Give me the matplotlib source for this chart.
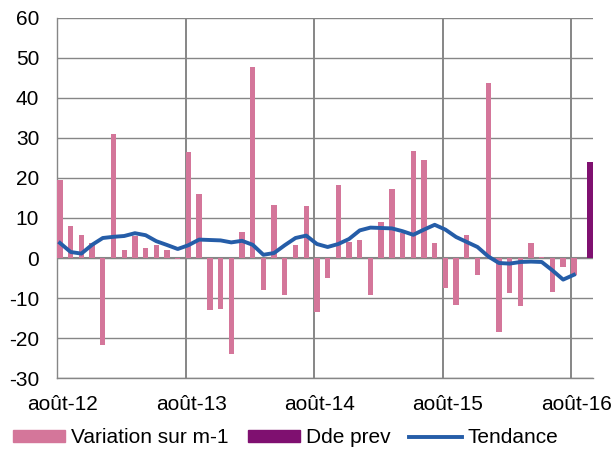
import matplotlib
matplotlib.use("Agg")
import matplotlib.pyplot as plt
import numpy as np
from matplotlib.patches import Patch
from matplotlib.lines import Line2D

plt.rcParams['font.family'] = ['Liberation Sans', 'DejaVu Sans']
plt.rcParams['axes.unicode_minus'] = False

tick_labels = ["août-12", "août-13", "août-14", "août-15", "août-16"]

variation = [19.6, 7.9, 5.8, 3.8, -21.7, 30.9, 1.9, 5.4, 2.6, 3.2, 2.1, -0.3,
             26.5, 16.0, -12.9, -12.75, -23.9, 6.5, 47.75, -7.9, 13.25, -9.25, 3.3, 12.9,
             -13.6, -5.0, 18.2, 4.0, 4.6, -9.25, 9.0, 17.2, 6.3, 26.75, 24.6, 3.7,
             -7.5, -11.7, 5.7, -4.2, 43.8, -18.5, -8.7, -12.1, 3.7, 0.3, -8.5, -2.25,
             -4.2]
dde_prev_value = 23.9  # month after août-16
tendance = [3.75, 1.5, 1.1, 3.3, 5.0, 5.3, 5.5, 6.2, 5.7, 4.2, 3.25, 2.25,
            3.2, 4.6, 4.5, 4.4, 3.9, 4.3, 3.3, 0.8, 1.25, 3.2, 5.0, 5.6,
            3.5, 2.75, 3.5, 4.75, 6.9, 7.6, 7.5, 7.4, 6.7, 5.8, 7.1, 8.3,
            7.1, 5.25, 4.0, 2.75, 0.4, -1.25, -1.4, -1.0, -0.9, -1.0, -3.1, -5.4,
            -4.2]

pink = "#d4769a"
purple = "#7f1070"
blue = "#255da8"
grid = "#868686"

n_var = len(variation)
n_slots = n_var + 1
x = np.arange(n_var)

fig = plt.figure(figsize=(6.16, 4.5), dpi=100)
ax = fig.add_axes([0.093, 0.16, 0.869, 0.8])

w = 0.5
ax.bar(x, variation, width=w, align='edge', color=pink, zorder=3)
ax.bar([n_var + 0.5], [dde_prev_value], width=w, align='edge', color=purple, zorder=3)
ax.plot(x + 0.25, tendance, color=blue, lw=2.8, zorder=4, solid_joinstyle='round')

ax.set_xlim(0, n_slots)
ax.set_ylim(-30, 60)
ax.set_yticks(np.arange(-30, 61, 10))
ax.yaxis.grid(True, color=grid, lw=1.0, zorder=0)
for k in range(0, n_slots, 12):
    ax.axvline(k, color=grid, lw=1.4, zorder=1)
ax.axhline(0, color=grid, lw=1.5, zorder=2)

ax.set_xticks([i * 12 + 0.5 for i in range(len(tick_labels))])
ax.set_xticklabels(tick_labels)
ax.tick_params(axis='both', length=0, labelsize=15)
ax.tick_params(axis='y', pad=13)
ax.tick_params(axis='x', pad=12)
for s in ['top', 'right']:
    ax.spines[s].set_visible(False)
for s in ['left', 'bottom']:
    ax.spines[s].set_color(grid)
    ax.spines[s].set_linewidth(1.0)

handles = [Patch(color=pink, label="Variation sur m-1"),
           Patch(color=purple, label="Dde prev"),
           Line2D([0], [0], color=blue, lw=2.8, label="Tendance")]
fig.legend(handles=handles, loc='center', bbox_to_anchor=(0.464, 0.027), ncol=3,
           frameon=False, fontsize=15, handlelength=2.5, handleheight=0.5,
           handletextpad=0.3, columnspacing=0.9, borderaxespad=0)

fig.savefig("out.png", dpi=100)
